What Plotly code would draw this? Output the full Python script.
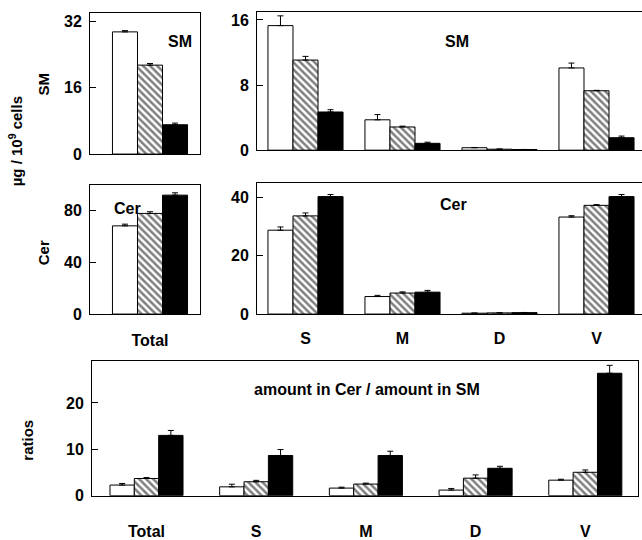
import plotly.graph_objects as go

W, H = 642, 540

# ---------------- data ----------------
total_cat = ["Total"]
frac_cat = ["S", "M", "D", "V"]
ratio_cat = ["Total", "S", "M", "D", "V"]

sm_total_white = [29.4]; sm_total_white_err = [0.3]
sm_total_hatch = [21.4]; sm_total_hatch_err = [0.4]
sm_total_black = [7.06]; sm_total_black_err = [0.4]

sm_frac_white = [15.3, 3.73, 0.3, 10.1]; sm_frac_white_err = [1.2, 0.64, 0.03, 0.6]
sm_frac_hatch = [11.07, 2.85, 0.12, 7.3]; sm_frac_hatch_err = [0.45, 0.1, 0.02, 0.05]
sm_frac_black = [4.69, 0.84, 0.08, 1.53]; sm_frac_black_err = [0.28, 0.14, 0.01, 0.2]

cer_total_white = [68.1]; cer_total_white_err = [1.3]
cer_total_hatch = [77.7]; cer_total_hatch_err = [1.3]
cer_total_black = [91.8]; cer_total_black_err = [1.8]

cer_frac_white = [28.7, 6.0, 0.3, 33.2]; cer_frac_white_err = [1.1, 0.4, 0.05, 0.45]
cer_frac_hatch = [33.6, 7.2, 0.4, 37.2]; cer_frac_hatch_err = [1.0, 0.4, 0.05, 0.25]
cer_frac_black = [40.2, 7.5, 0.5, 40.2]; cer_frac_black_err = [0.7, 0.6, 0.05, 0.7]

ratio_white = [2.28, 1.9, 1.63, 1.2, 3.34]; ratio_white_err = [0.35, 0.57, 0.2, 0.35, 0.2]
ratio_hatch = [3.7, 3.0, 2.5, 3.77, 5.04]; ratio_hatch_err = [0.2, 0.3, 0.2, 0.7, 0.5]
ratio_black = [13.0, 8.66, 8.66, 5.9, 26.4]; ratio_black_err = [1.06, 1.28, 0.92, 0.43, 1.7]

# ---------------- helpers ----------------
FONT = "Liberation Sans, Arial, sans-serif"
def px_x(p): return p / W
def px_y(p): return 1 - p / H

fig = go.Figure()

def add_group(xcats, vals, errs, axis_id, kind, bw):
    idx = {"white": -1.5, "hatch": -0.5, "black": 0.5}[kind]
    if kind == "white":
        marker = dict(color="white", line=dict(color="black", width=1))
    elif kind == "hatch":
        marker = dict(color="white", line=dict(color="black", width=1),
                      pattern=dict(shape="\\", fgcolor="black", bgcolor="white",
                                   size=5, solidity=0.5))
    else:
        marker = dict(color="black", line=dict(color="black", width=1))
    fig.add_trace(go.Bar(
        x=xcats, y=vals, width=bw, offset=idx * bw,
        marker=marker,
        error_y=dict(type="data", array=errs, arrayminus=[0] * len(errs),
                     symmetric=False, color="black", thickness=1, width=3),
        xaxis="x" + axis_id if axis_id != "1" else "x",
        yaxis="y" + axis_id if axis_id != "1" else "y",
        showlegend=False, hoverinfo="skip"))

panels = [
    ("1", total_cat, (sm_total_white, sm_total_white_err), (sm_total_hatch, sm_total_hatch_err), (sm_total_black, sm_total_black_err), 0.258),
    ("2", frac_cat, (sm_frac_white, sm_frac_white_err), (sm_frac_hatch, sm_frac_hatch_err), (sm_frac_black, sm_frac_black_err), 0.258),
    ("3", total_cat, (cer_total_white, cer_total_white_err), (cer_total_hatch, cer_total_hatch_err), (cer_total_black, cer_total_black_err), 0.258),
    ("4", frac_cat, (cer_frac_white, cer_frac_white_err), (cer_frac_hatch, cer_frac_hatch_err), (cer_frac_black, cer_frac_black_err), 0.258),
    ("5", ratio_cat, (ratio_white, ratio_white_err), (ratio_hatch, ratio_hatch_err), (ratio_black, ratio_black_err), 0.222),
]
for pid, cats, w, h, b, bw in panels:
    add_group(cats, w[0], w[1], pid, "white", bw)
    add_group(cats, h[0], h[1], pid, "hatch", bw)
    add_group(cats, b[0], b[1], pid, "black", bw)

tickfont = dict(family=FONT, size=16, color="black", weight="bold")
catfont = dict(family=FONT, size=16, color="black", weight="bold")

def xax(x0, x1, rng, show_labels, standoff):
    return dict(domain=[px_x(x0), px_x(x1)], range=rng, type="category",
                showline=True, linecolor="black", linewidth=1, mirror=True,
                ticks="", showticklabels=show_labels, tickfont=catfont,
                ticklabelstandoff=standoff, showgrid=False, zeroline=False, fixedrange=True)

def yax(y_top, y_bot, rng, tvals, anchor, mirror):
    return dict(domain=[px_y(y_bot), px_y(y_top)], range=rng, tickvals=tvals,
                showline=True, linecolor="black", linewidth=1, mirror=mirror,
                ticks="inside", ticklen=6, tickcolor="black", tickwidth=1,
                tickfont=tickfont, ticklabelstandoff=4,
                showgrid=False, zeroline=False, anchor=anchor, fixedrange=True)

u_top = 97.0
c_top = 305.5
u_bot = 109.7
c_bot = 146.5
c_left = 150.0

layout = dict(
    width=W, height=H, margin=dict(l=0, r=0, t=0, b=0),
    paper_bgcolor="white", plot_bgcolor="white", barmode="overlay",
    xaxis=xax(90, 200, [(90 - c_left) / u_top, (200 - c_left) / u_top], False, 0),
    yaxis=yax(13, 157, [0, 34], [0, 16, 32], "x", True),
    xaxis2=xax(257, 642, [(257 - c_top) / u_top, (642 - c_top) / u_top], False, 0),
    yaxis2=yax(12, 153, [0, 17], [0, 8, 16], "x2", False),
    xaxis3=xax(90, 200, [(90 - c_left) / u_top, (200 - c_left) / u_top], True, 12),
    yaxis3=yax(188, 320, [0, 100], [0, 40, 80], "x3", True),
    xaxis4=xax(257, 642, [(257 - c_top) / u_top, (642 - c_top) / u_top], True, 10),
    yaxis4=yax(186, 320, [0, 45], [0, 20, 40], "x4", False),
    xaxis5=xax(92, 638, [(92 - c_bot) / u_bot, (638 - c_bot) / u_bot], True, 21),
    yaxis5=yax(368, 505, [0, 29], [0, 10, 20], "x5", True),
)
for i in ["", "2", "3", "4", "5"]:
    layout["xaxis" + i]["anchor"] = "y" + i if i else "y"
fig.update_layout(**layout)

def note(text, xp, yp, size=16, angle=0):
    fig.add_annotation(text=text, x=px_x(xp), y=px_y(yp), xref="paper", yref="paper",
                       showarrow=False, textangle=angle, xanchor="center", yanchor="middle",
                       font=dict(family=FONT, size=size, color="black", weight="bold"))

note("SM", 180, 42)
note("SM", 457, 42)
note("Cer", 127, 212)
note("Cer", 453, 208)
note("amount in Cer / amount in SM", 367, 397)
note("µg / 10<sup>9</sup> cells", 15, 144, size=15, angle=-90)
note("SM", 43, 85, size=15, angle=-90)
note("Cer", 43, 257, size=15, angle=-90)
note("ratios", 28, 449, size=15, angle=-90)

fig.write_html("out.html", config={"displayModeBar": False},
               post_script="document.body.style.margin='0px';document.body.style.padding='0px';document.documentElement.style.overflow='hidden';")
